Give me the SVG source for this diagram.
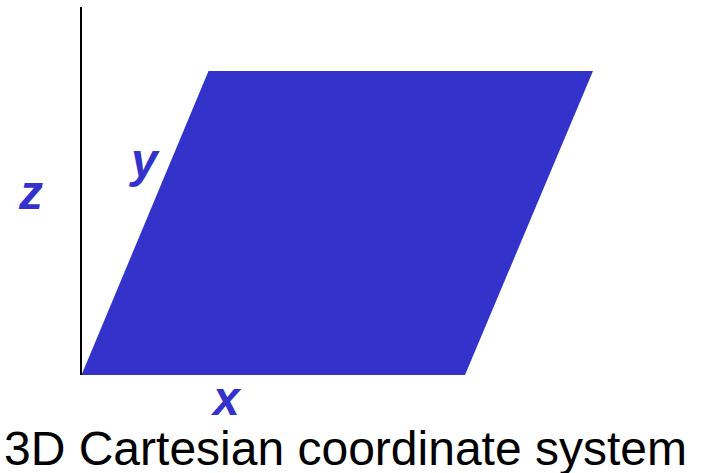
<svg xmlns="http://www.w3.org/2000/svg" width="704" height="473" viewBox="0 0 704 473">
<style>
.lbl{font-family:"Liberation Sans",Arial,sans-serif;font-weight:bold;font-style:italic;font-size:48px;fill:#3333CC}
.cap{font-family:"Liberation Sans",Arial,sans-serif;font-size:48px;fill:#000}
</style>
<rect width="704" height="473" fill="#fff"/>
<g id="axes">
<line x1="81" y1="7" x2="81" y2="375" stroke="#000" stroke-width="2"/>
</g>
<g id="plane">
<polygon points="81.5,375 465,375 593,71 208.5,71" fill="#3333CC"/>
</g>
<g id="labels">
<text class="lbl" x="19" y="209">z</text>
<text class="lbl" x="131" y="177">y</text>
<text class="lbl" x="213" y="415">x</text>
</g>
<g id="caption">
<text class="cap" x="4" y="465">3D Cartesian coordinate system</text>
</g>
</svg>
